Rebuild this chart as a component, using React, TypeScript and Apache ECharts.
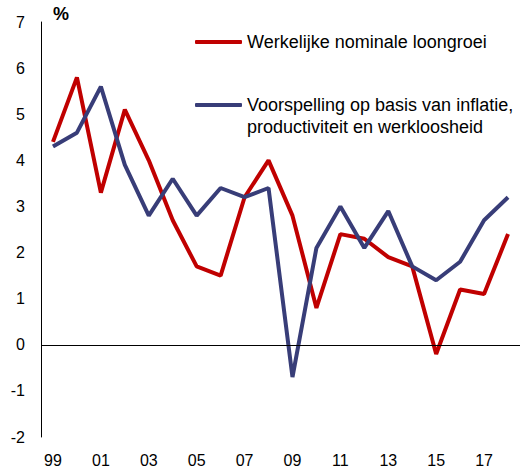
import React, { useEffect, useRef } from "react";
import * as echarts from "echarts";

const years = ["99","00","01","02","03","04","05","06","07","08","09","10","11","12","13","14","15","16","17","18"];
const actualName = "Werkelijke nominale loongroei";
const forecastName = "Voorspelling op basis van inflatie,\nproductiviteit en werkloosheid";
const actual = [4.4, 5.8, 3.3, 5.1, 4.0, 2.7, 1.7, 1.5, 3.2, 4.0, 2.8, 0.8, 2.4, 2.3, 1.9, 1.7, -0.2, 1.2, 1.1, 2.4];
const forecast = [4.3, 4.6, 5.6, 3.9, 2.8, 3.6, 2.8, 3.4, 3.2, 3.4, -0.7, 2.1, 3.0, 2.1, 2.9, 1.7, 1.4, 1.8, 2.7, 3.2];
const yTicks = { min: -2, max: 7, interval: 1 };

const RED = "#C00000";
const BLUE = "#383D78";
const FONT = "Liberation Sans, Arial, sans-serif";

export default function App() {
  const ref = useRef<HTMLDivElement>(null);
  useEffect(() => {
    document.body.style.margin = "0";
    const chart = echarts.init(ref.current!, undefined, { renderer: "svg" });
    chart.setOption({
      animation: false,
      textStyle: { fontFamily: FONT },
      title: {
        text: "%",
        left: 53,
        top: 5,
        padding: 0,
        textStyle: { fontSize: 18, fontWeight: "bold", color: "#000", fontFamily: FONT },
      },
      legend: [
        {
          data: [actualName],
          left: 195,
          top: 31,
          padding: 0,
          icon: "roundRect",
          itemWidth: 47,
          itemHeight: 4,
          textStyle: { fontSize: 18, color: "#000", lineHeight: 22, fontFamily: FONT },
        },
        {
          data: [forecastName],
          left: 195,
          top: 72,
          padding: 0,
          icon: "roundRect",
          itemWidth: 47,
          itemHeight: 4,
          formatter: (name: string) =>
            name
              .split("\n")
              .map((l) => "{a|" + l + "}")
              .join("\n"),
          textStyle: {
            fontSize: 18,
            color: "#000",
            lineHeight: 22,
            padding: [22, 0, 0, 0],
            fontFamily: FONT,
            rich: { a: { fontSize: 18, lineHeight: 22, color: "#000", fontFamily: FONT } },
          },
        },
      ],
      grid: { left: 41, right: -1, top: 22, bottom: 31, containLabel: false },
      xAxis: {
        type: "category",
        data: years,
        boundaryGap: true,
        axisLine: { show: false, onZero: false },
        axisTick: { show: false },
        axisLabel: { interval: 1, fontSize: 16, color: "#000", margin: 15, fontFamily: FONT },
        splitLine: { show: false },
      },
      yAxis: {
        type: "value",
        min: yTicks.min,
        max: yTicks.max,
        interval: yTicks.interval,
        axisLine: { show: true, lineStyle: { color: "#000", width: 1 } },
        axisTick: { show: false },
        axisLabel: { fontSize: 16, color: "#000", margin: 16, fontFamily: FONT },
        splitLine: { show: false },
      },
      series: [
        {
          name: actualName,
          type: "line",
          data: actual,
          symbol: "none",
          lineStyle: { color: RED, width: 4 },
          itemStyle: { color: RED },
          z: 3,
          markLine: {
            silent: true,
            symbol: ["none", "none"],
            label: { show: false },
            lineStyle: { color: "#000", width: 1, type: "solid" },
            data: [{ yAxis: 0 }],
          },
        },
        {
          name: forecastName,
          type: "line",
          data: forecast,
          symbol: "none",
          lineStyle: { color: BLUE, width: 4 },
          itemStyle: { color: BLUE },
          z: 4,
        },
      ],
    });
    return () => chart.dispose();
  }, []);
  return <div ref={ref} style={{ width: 520, height: 468 }} />;
}
